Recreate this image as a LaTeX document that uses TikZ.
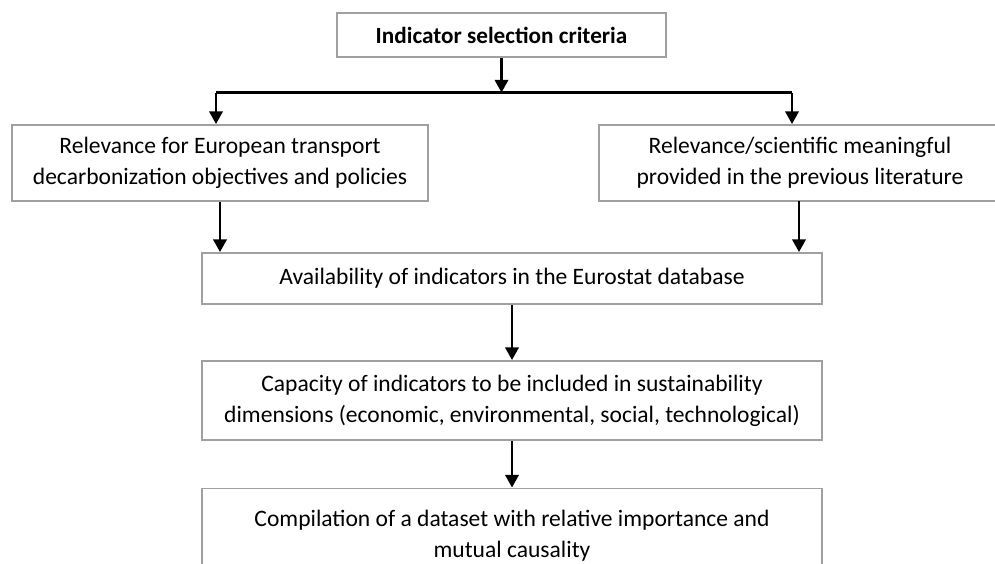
\documentclass[tikz,border=0pt]{standalone}
\usepackage{fontspec}
\setmainfont{Carlito}
\usepackage{tikz}
\usetikzlibrary{arrows.meta,positioning,calc}
\definecolor{boxgray}{RGB}{160,160,160}
\tikzset{
  crit/.style={draw=boxgray,line width=1.1pt,fill=white,align=center,inner sep=2pt,font=\fontsize{13.4}{17.8}\selectfont},
  wide/.style={crit,minimum width=12.4cm},
  arr/.style={-{Triangle[width=7.6pt,length=7.2pt]},draw=black,line width=1.5pt},
  bar/.style={draw=black,line width=1.5pt}
}

\begin{document}
\begin{tikzpicture}
  \clip (0,0) rectangle (19.9,-11.26);
  % criteria boxes
  \node[crit,minimum width=6.58cm,minimum height=0.88cm,font=\fontsize{13.2}{17.6}\selectfont\bfseries] (head) at (10.03,-0.70) {Indicator selection criteria};
  \node[crit,minimum width=8.32cm,minimum height=1.52cm] (policy) at (4.40,-3.26) {Relevance for European transport\\decarbonization objectives and policies};
  % runs on past the right edge
  \node[crit,minimum width=8.8cm,minimum height=1.52cm,anchor=west] (lit) at (11.96,-3.26) {Relevance/scientific meaningful\hspace*{0.76cm}\\provided in the previous literature\hspace*{0.76cm}};
  \node[wide,minimum height=1.02cm] (avail) at (10.24,-5.57) {Availability of indicators in the Eurostat database};
  \node[wide,minimum height=1.58cm] (dims) at (10.24,-8.01) {Capacity of indicators to be included in sustainability\\dimensions (economic, environmental, social, technological)};
  \node[wide,minimum height=1.9cm] (data) at (10.24,-10.72) {Compilation of a dataset with relative importance and\\mutual causality};

  % split below the heading
  \coordinate (split) at (head.south |- 0,-1.85);
  \coordinate (jl) at (4.32,-1.85);
  \coordinate (jr) at (15.84,-1.85);
  \coordinate (litout) at (15.98,-4.02);
  \draw[arr] (head) -- (split);
  \draw[bar] (jl) -- (jr);
  \draw[arr] (jl) -- (jl |- policy.north);
  \draw[arr] (jr) -- (jr |- lit.north);

  % down the column
  \draw[arr] (policy.south) -- (policy.south |- avail.north);
  \draw[arr] (litout) -- (litout |- avail.north);
  \draw[arr] (avail) -- (dims);
  \draw[arr] (dims) -- (data);
\end{tikzpicture}
\end{document}
